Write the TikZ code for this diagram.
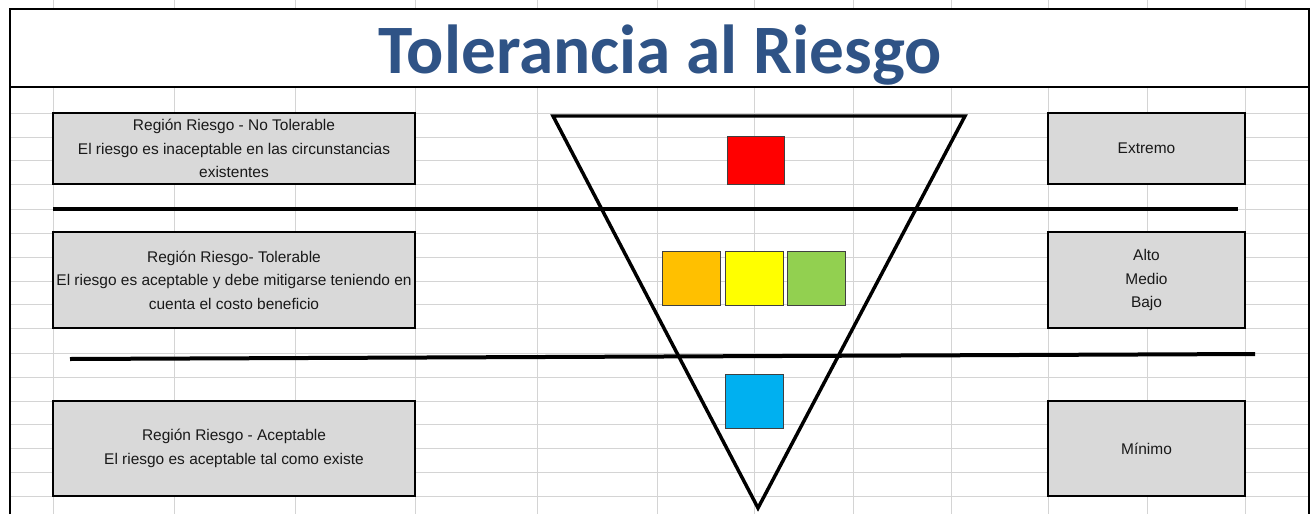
\documentclass[tikz,border=0pt]{standalone}
\usepackage{fontspec}
\setmainfont{Liberation Sans}
\newfontfamily\titlefont{Carlito}
\usetikzlibrary{positioning}
\definecolor{titleblue}{HTML}{2F5386}
\definecolor{boxgray}{HTML}{D9D9D9}
\definecolor{gridgray}{HTML}{D4D4D4}
\definecolor{lvlred}{HTML}{FF0000}
\definecolor{lvlorange}{HTML}{FFC000}
\definecolor{lvlyellow}{HTML}{FFFF00}
\definecolor{lvlgreen}{HTML}{92D050}
\definecolor{lvlblue}{HTML}{00B0F0}

\begin{document}
\begin{tikzpicture}[
    x=0.75pt, y=-0.75pt,
    node distance=3pt,
    region/.style={draw=black, line width=1.6pt, fill=boxgray, inner sep=0pt,
        minimum width=271.5pt, align=center, text=black!90,
        font=\fontsize{11.6}{17.6}\selectfont},
    level/.style={region, minimum width=147.75pt},
    swatch/.style={draw=black!75, line width=0.6pt, inner sep=0pt,
        minimum width=43.5pt, minimum height=40.5pt},
    divider/.style={line width=3pt, black},
    gridline/.style={gridgray, line width=0.75pt}
]
   \useasboundingbox (0,0) rectangle (1312,514);

   % Sheet grid
   \foreach \gx in {53,174,295,415,537,657,754,853,951,1048,1147,1245} {
      \draw[gridline] (\gx,0) -- (\gx,9);
      \draw[gridline] (\gx,87) -- (\gx,514);
   }
   \foreach \gy in {113,137,160,184,209,233,257,281,304,328,353,377,401,424,448,472,496}
      \draw[gridline] (10,\gy) -- (1309,\gy);

   % Frame and title
   \draw[line width=1.5pt] (10,514) -- (10,9) -- (1309,9) -- (1309,514);
   \draw[line width=2.2pt] (10,87) -- (1309,87);
   \node[anchor=base, text=titleblue, font=\titlefont\bfseries\fontsize{52}{52}\selectfont]
      (title) at (660,73) {Tolerancia al Riesgo};

   % Regions
   \node[region, minimum height=53.25pt] (noTol) at (234,148.5)
      {Región Riesgo - No Tolerable\\El riesgo es inaceptable en las circunstancias\\existentes};
   \node[region, minimum height=72pt] (tol) at (234,280)
      {Región Riesgo- Tolerable\\El riesgo es aceptable y debe mitigarse teniendo en\\cuenta el costo beneficio};
   \node[region, minimum height=71.25pt] (acep) at (234,448.5)
      {Región Riesgo - Aceptable\\El riesgo es aceptable tal como existe};

   % Levels
   \node[level, minimum height=53.25pt] (extremo) at (1146.5,148.5) {Extremo};
   \node[level, minimum height=72pt] (amb) at (1146.5,280) {Alto\\Medio\\Bajo};
   \node[level, minimum height=71.25pt] (minimo) at (1146.5,448.5) {Mínimo};

   % Separators
   \coordinate (sepA1) at (53,209);
   \coordinate (sepA2) at (1238,209);
   \coordinate (sepB1) at (70,359);
   \coordinate (sepB2) at (1255,354);
   \draw[divider] (sepA1) -- (sepA2);
   \draw[divider] (sepB1) -- (sepB2);

   % Triangle
   \coordinate (triL) at (553,116);
   \coordinate (triR) at (965,116);
   \coordinate (triB) at (758,508);
   \draw[line width=2.6pt, line join=miter] (triL) -- (triR) -- (triB) -- cycle;

   % Colour swatches
   \node[swatch, fill=lvlred, minimum width=42.75pt, minimum height=36pt] (sRed) at (755.5,160) {};
   \node[swatch, fill=lvlyellow] (sYellow) at (754,278) {};
   \node[swatch, fill=lvlorange, left=of sYellow] (sOrange) {};
   \node[swatch, fill=lvlgreen, right=of sYellow] (sGreen) {};
   \node[swatch, fill=lvlblue] (sBlue) at (754,401) {};
\end{tikzpicture}
\end{document}
